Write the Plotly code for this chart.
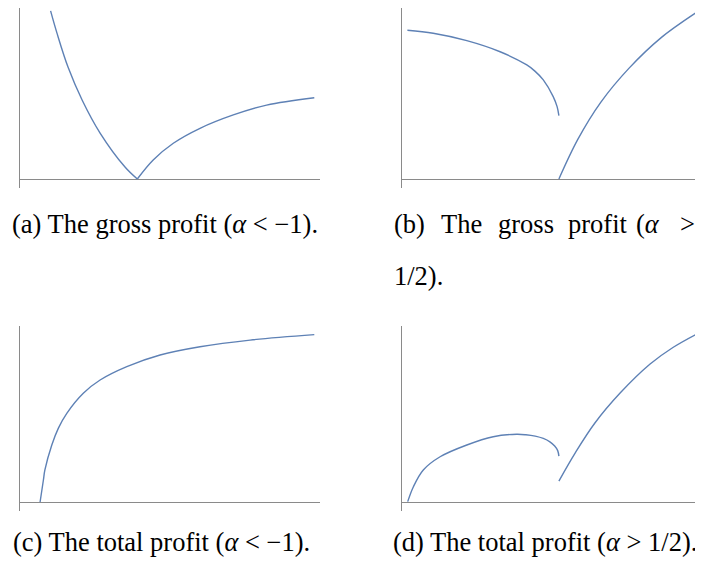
import plotly.graph_objects as go

# page is 703x570; browser body has an 8px margin, so the figure is offset
OFF = 8
W, H = 703 - OFF, 570 - OFF

# ---- data (arbitrary units: x 0..100, y 0..100) ----
a_left_x = [10.2, 12.3, 16.0, 20.7, 26.7, 35.0, 39.1]
a_left_y = [95.5, 83.0, 63.6, 44.9, 26.1, 6.8, 0.0]
a_right_x = [39.1, 44.4, 51.1, 60.0, 71.1, 82.2, 98.1]
a_right_y = [0.0, 10.8, 20.3, 28.8, 36.4, 42.0, 46.2]

b_left_x = [1.8, 10.4, 21.6, 32.7, 41.6, 44.3, 47.1, 50.4, 51.7, 52.3]
b_left_y = [84.5, 82.8, 78.6, 72.3, 64.8, 61.3, 56.3, 46.8, 41.1, 36.0]
b_right_x = [52.3, 58.6, 66.3, 75.7, 86.3, 98.3]
b_right_y = [0.0, 22.5, 43.7, 63.0, 80.2, 94.8]

c_x = [6.7, 7.8, 8.3, 10.6, 12.8, 15.6, 21.1, 26.7, 35.6, 46.7, 60.0, 76.7, 98.1]
c_y = [0.0, 12.5, 18.2, 32.4, 42.0, 50.4, 61.8, 69.3, 76.9, 83.5, 88.2, 92.0, 95.1]

d_left_x = [1.9, 3.8, 7.1, 12.7, 21.6, 30.4, 38.2, 41.3, 44.4, 47.1, 49.3, 50.9, 51.9, 52.3]
d_left_y = [0.2, 8.7, 18.2, 25.7, 32.4, 37.1, 38.5, 38.2, 37.4, 36.1, 34.2, 31.8, 29.2, 26.1]
d_right_x = [52.3, 57.7, 64.3, 72.7, 82.7, 90.3, 98.3]
d_right_y = [11.9, 27.8, 44.9, 61.9, 78.4, 87.8, 95.5]

captions = {
    "a": "(a) The gross profit (<i>α</i> &lt; −1).",
    "c": "(c) The total profit (<i>α</i> &lt; −1).",
    "d": "(d) The total profit (<i>α</i> &gt; 1/2).",
}
caption_b_words = ["(b)", "The", "gross", "profit", "(<i>α</i>", "&gt;"]
caption_b_line2 = "1/2)."

LINE = "#5e81b5"
AX = "#8a8a8a"
FONT = "Liberation Serif"
PX_PER_Y = 1.76  # page pixels per y unit
BELOW = 9        # y axis extends this many px below the x axis

# panel page-pixel boxes: (x_left, x_right, y_top, y_zero)
panels = {
    "a": (20, 320, 3, 179),
    "b": (402, 702, 3, 179),
    "c": (20, 320, 326, 502),
    "d": (402, 702, 326, 502),
}

fig = go.Figure()
series = {
    "a": [(a_left_x, a_left_y), (a_right_x, a_right_y)],
    "b": [(b_left_x, b_left_y), (b_right_x, b_right_y)],
    "c": [(c_x, c_y)],
    "d": [(d_left_x, d_left_y), (d_right_x, d_right_y)],
}

def fx(px):
    return (px - OFF) / W

def fy(py):
    return 1 - (py - OFF) / H

layout = {}
for i, key in enumerate(["a", "b", "c", "d"]):
    n = "" if i == 0 else str(i + 1)
    xl, xr, yt, y0 = panels[key]
    yt = max(yt, OFF)
    yb = y0 + BELOW
    for xs, ys in series[key]:
        fig.add_trace(go.Scatter(
            x=xs, y=ys, mode="lines", xaxis="x" + n, yaxis="y" + n,
            line=dict(color=LINE, width=1.4, shape="spline", smoothing=1.0),
            showlegend=False, hoverinfo="skip"))
    layout["xaxis" + n] = dict(
        domain=[fx(xl), fx(xr)], range=[0, 100], anchor="y" + n,
        showgrid=False, zeroline=False, showline=False,
        showticklabels=False, ticks="")
    layout["yaxis" + n] = dict(
        domain=[fy(yb), fy(yt)],
        range=[-BELOW / PX_PER_Y, (y0 - yt) / PX_PER_Y], anchor="x" + n,
        showgrid=False, zeroline=True, zerolinecolor=AX, zerolinewidth=1,
        showline=True, linecolor=AX, linewidth=1,
        showticklabels=False, ticks="")

fig.update_layout(**layout)

anns = []
fs = 26.5
def add(text, x, y, xanchor="left"):
    anns.append(dict(text=text, x=fx(x), y=fy(y), xref="paper", yref="paper",
                     xanchor=xanchor, yanchor="middle", showarrow=False,
                     font=dict(family=FONT, size=fs, color="#000000")))

add(captions["a"], 10, 224)
add(captions["c"], 11, 542)
add(captions["d"], 699, 542, xanchor="right")
b_pos = [392, 439, 496, 566, 634, 678]
for w, x in zip(caption_b_words, b_pos):
    add(w, x, 224)
add(caption_b_line2, 392, 276)

fig.update_layout(
    width=W, height=H, margin=dict(l=0, r=0, t=0, b=0),
    paper_bgcolor="white", plot_bgcolor="white",
    annotations=anns,
)

fig.write_html("out.html")
